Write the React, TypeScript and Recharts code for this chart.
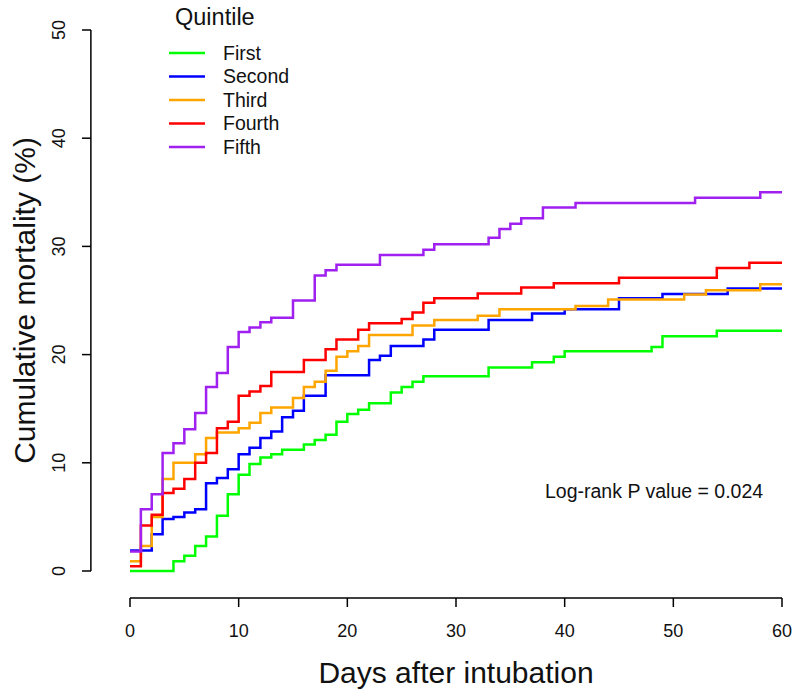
import React from 'react';
import {
  LineChart,
  Line,
  XAxis,
  YAxis,
  Legend,
  ReferenceLine,
} from 'recharts';

// [day, cumulative mortality %]
const firstQuintile: [number, number][] = [
  [0, 0], [4, 0.9], [5, 1.4], [6, 2.3], [7, 3.2], [8, 5.1], [9, 7.1], [10, 8.9],
  [11, 9.9], [12, 10.5], [13, 10.8], [14, 11.2], [16, 11.7], [17, 12.1], [18, 12.6],
  [19, 13.8], [20, 14.5], [21, 14.9], [22, 15.5], [24, 16.5], [25, 17.0], [26, 17.5],
  [27, 18.0], [33, 18.8], [37, 19.3], [39, 19.8], [40, 20.3], [48, 20.7], [49, 21.7],
  [54, 22.2], [60, 22.2],
];
const secondQuintile: [number, number][] = [
  [0, 1.9], [2, 3.4], [3, 4.8], [4, 5.0], [5, 5.4], [6, 5.7], [7, 8.1], [8, 8.6],
  [9, 9.4], [10, 10.8], [11, 11.4], [12, 12.3], [13, 12.9], [14, 14.2], [15, 14.8],
  [16, 16.2], [18, 18.1], [22, 19.5], [23, 19.9], [24, 20.8], [27, 21.4], [28, 22.3],
  [33, 23.2], [37, 23.8], [40, 24.2], [45, 25.2], [49, 25.6], [55, 26.1], [60, 26.1],
];
const thirdQuintile: [number, number][] = [
  [0, 0.9], [1, 2.3], [2, 5.0], [3, 8.5], [4, 10.0], [6, 10.8], [7, 12.3], [8, 12.8],
  [10, 13.2], [11, 13.7], [12, 14.6], [13, 15.1], [15, 16.0], [16, 17.0], [17, 17.5],
  [18, 18.5], [19, 19.8], [20, 20.3], [21, 20.8], [22, 21.8], [26, 22.7], [28, 23.2],
  [32, 23.6], [34, 24.2], [41, 24.5], [44, 25.1], [51, 25.55], [53, 25.95], [58, 26.5],
  [60, 26.5],
];
const fourthQuintile: [number, number][] = [
  [0, 0.45], [1, 4.2], [2, 5.2], [3, 7.2], [4, 7.6], [5, 8.5], [6, 10.0], [7, 10.9],
  [8, 13.2], [9, 13.8], [10, 16.2], [11, 16.6], [12, 17.1], [13, 18.4], [16, 19.5],
  [18, 20.5], [19, 21.4], [21, 22.3], [22, 22.9], [25, 23.3], [26, 23.9], [27, 24.8],
  [28, 25.2], [32, 25.65], [36, 26.2], [39, 26.6], [45, 27.1], [54, 28.0], [57, 28.5],
  [60, 28.5],
];
const fifthQuintile: [number, number][] = [
  [0, 1.8], [1, 5.7], [2, 7.1], [3, 10.9], [4, 11.8], [5, 13.1], [6, 14.6], [7, 17.0],
  [8, 18.3], [9, 20.7], [10, 22.1], [11, 22.5], [12, 23.0], [13, 23.4], [15, 25.0],
  [17, 27.3], [18, 27.8], [19, 28.3], [23, 29.2], [27, 29.7], [28, 30.2], [33, 30.8],
  [34, 31.6], [35, 32.1], [36, 32.6], [38, 33.6], [41, 34.0], [52, 34.5], [58, 35.0],
  [60, 35.0],
];

const quintileNames = ['First', 'Second', 'Third', 'Fourth', 'Fifth'];
const quintileColors = ['#00ff00', '#0000ff', '#ffa500', '#ff0000', '#a020f0'];
const quintileSeries = [firstQuintile, secondQuintile, thirdQuintile, fourthQuintile, fifthQuintile];

const xTicks = [0, 10, 20, 30, 40, 50, 60];
const yTicks = [0, 10, 20, 30, 40, 50];

const FONT = '"Liberation Sans", Arial, Helvetica, sans-serif';

const YTick = (props: any) => {
  const { x, y, payload } = props;
  const tx = x - 26;
  return (
    <g>
      <line x1={x} x2={x - 9} y1={y} y2={y} stroke="#000" strokeWidth={1.5} />
      <text
        x={tx}
        y={y}
        transform={`rotate(-90 ${tx} ${y})`}
        textAnchor="middle"
        fontSize={18}
        fontFamily={FONT}
        fill="#111"
      >
        {payload.value}
      </text>
    </g>
  );
};

const renderLegend = (props: any) => {
  const items = [...(props.payload || [])].sort(
    (a: any, b: any) => quintileNames.indexOf(a.value) - quintileNames.indexOf(b.value)
  );
  return (
    <svg width={300} height={170} style={{ display: 'block' }}>
      <text x={175} y={25} fontSize={23.5} fontFamily={FONT} fill="#111">
        Quintile
      </text>
      {items.map((item: any, i: number) => {
        const cy = 53 + i * 23.5;
        return (
          <g key={item.value}>
            <line x1={169} x2={205} y1={cy} y2={cy} stroke={item.color} strokeWidth={2.5} />
            <text x={223} y={cy} dy="0.35em" fontSize={19.5} fontFamily={FONT} fill="#111">
              {item.value}
            </text>
          </g>
        );
      })}
    </svg>
  );
};

export default function App() {
  return (
    <div style={{ position: 'absolute', left: 0, top: 0, width: 800, height: 698, background: '#fff' }}>
      <LineChart width={800} height={698} margin={{ top: 30, right: 18, bottom: 20, left: 0 }}>
        <XAxis
          dataKey="day"
          type="number"
          domain={[0, 60]}
          ticks={xTicks}
          allowDuplicatedCategory={false}
          height={80}
          tickSize={9}
          tickMargin={17}
          axisLine={{ stroke: '#000', strokeWidth: 1.5 }}
          tickLine={{ stroke: '#000', strokeWidth: 1.5 }}
          tick={{ fontSize: 18, fontFamily: FONT, fill: '#111' }}
          label={{
            content: (p: any) => {
              const vb = p.viewBox;
              return (
                <text
                  x={vb.x + vb.width / 2}
                  y={vb.y + 85}
                  textAnchor="middle"
                  fontSize={30}
                  fontFamily={FONT}
                  fill="#111"
                >
                  Days after intubation
                </text>
              );
            },
          }}
        />
        <YAxis
          type="number"
          domain={[0, 50]}
          ticks={yTicks}
          width={130}
          padding={{ top: 0, bottom: 27 }}
          axisLine={false}
          tickLine={false}
          tickSize={0}
          tickMargin={39}
          tick={<YTick />}
          label={{
            content: (p: any) => {
              const vb = p.viewBox;
              const cx = 35;
              const cy = vb.y + (vb.height - 27) / 2;
              return (
                <text
                  x={cx}
                  y={cy}
                  transform={`rotate(-90 ${cx} ${cy})`}
                  textAnchor="middle"
                  fontSize={30}
                  fontFamily={FONT}
                  fill="#111"
                >
                  Cumulative mortality (%)
                </text>
              );
            },
          }}
        />
        <ReferenceLine
          segment={[{ x: -3.6, y: 0 }, { x: -3.6, y: 50 }]}
          stroke="#000"
          strokeWidth={1.5}
          ifOverflow="visible"
        />
        {quintileSeries.map((series, i) => (
          <Line
            key={quintileNames[i]}
            name={quintileNames[i]}
            data={series.map(([day, value]) => ({ day, value }))}
            dataKey="value"
            type="stepAfter"
            stroke={quintileColors[i]}
            strokeWidth={2.5}
            dot={false}
            activeDot={false}
            isAnimationActive={false}
          />
        ))}
        <Legend
          layout="vertical"
          align="center"
          verticalAlign="middle"
          content={renderLegend}
          wrapperStyle={{ position: 'absolute', top: 0, left: 0, width: 300, height: 170 }}
        />
      </LineChart>
      <div
        style={{
          position: 'absolute',
          left: 545,
          top: 480,
          fontSize: 19.5,
          lineHeight: '22px',
          fontFamily: FONT,
          color: '#111',
          whiteSpace: 'nowrap',
        }}
      >
        Log-rank P value = 0.024
      </div>
    </div>
  );
}
